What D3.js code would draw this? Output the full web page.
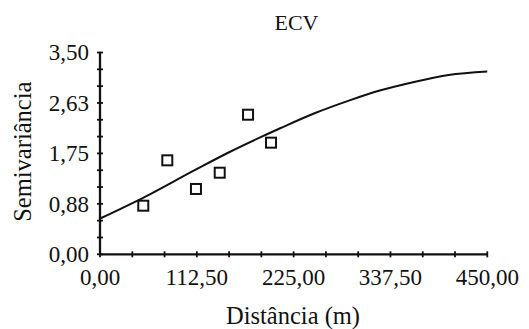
<!DOCTYPE html>
<html lang="pt">
<head>
<meta charset="UTF-8"/>
<title>ECV - Semivariograma</title>
<script src="https://d3js.org/d3.v7.min.js"></script>
<style>
	body { margin: 0; background: #fff; }
	text { font-family: "Liberation Serif", "DejaVu Serif", serif; fill: #111; }
</style>
</head>
<body>
<script>
	// ***Data***
	var distances = [50.3, 78.2, 111.5, 139.1, 172.0, 198.7];
	var semivariances = [0.843, 1.630, 1.133, 1.415, 2.421, 1.936];

	// fitted model
	var modelDistances = [0, 50, 110, 150, 210, 250, 290, 325, 365, 405, 450];
	var modelValues = [0.62, 0.98, 1.46, 1.77, 2.19, 2.45, 2.67, 2.84, 2.99, 3.11, 3.17];

	var xTickValues = [0, 112.5, 225, 337.5, 450];
	var xTickLabels = ["0,00", "112,50", "225,00", "337,50", "450,00"];
	var yTickValues = [0, 0.875, 1.75, 2.625, 3.5];
	var yTickLabels = ["0,00", "0,88", "1,75", "2,63", "3,50"];

	var title = "ECV";
	var xTitle = "Distância (m)";
	var yTitle = "Semivariância";

	// ***Layout***
	var w = 529;
	var h = 329;
	var plotLeft = 100, plotRight = 487.3, plotTop = 52.5, plotBottom = 254.3;

	var xScale = d3.scaleLinear().domain([0, 450]).range([plotLeft, plotRight]);
	var yScale = d3.scaleLinear().domain([0, 3.5]).range([plotBottom, plotTop]);

	var svg = d3.select("body")
				.append("svg")
				.attr("width", w)
				.attr("height", h);

	svg.append("rect").attr("width", w).attr("height", h).attr("fill", "#fff");

	// minor ticks (12 divisions on each axis), crossing the axis line
	var xMinor = d3.range(0, 13).map(function(i) { return i * 450 / 12; });
	var yMinor = d3.range(0, 13).map(function(i) { return i * 3.5 / 12; });

	svg.selectAll("line.xtick")
		.data(xMinor)
		.enter()
		.append("line")
		.attr("class", "xtick")
		.attr("x1", function(d) { return xScale(d); })
		.attr("x2", function(d) { return xScale(d); })
		.attr("y1", plotBottom - 3)
		.attr("y2", plotBottom + 3)
		.attr("stroke", "#111")
		.attr("stroke-width", 1.8);

	svg.selectAll("line.ytick")
		.data(yMinor)
		.enter()
		.append("line")
		.attr("class", "ytick")
		.attr("y1", function(d) { return yScale(d); })
		.attr("y2", function(d) { return yScale(d); })
		.attr("x1", plotLeft - 3)
		.attr("x2", plotLeft + 3)
		.attr("stroke", "#111")
		.attr("stroke-width", 1.8);

	// axis lines
	svg.append("line")
		.attr("x1", plotLeft).attr("x2", plotRight)
		.attr("y1", plotBottom).attr("y2", plotBottom)
		.attr("stroke", "#111").attr("stroke-width", 2.3);
	svg.append("line")
		.attr("x1", plotLeft).attr("x2", plotLeft)
		.attr("y1", plotTop).attr("y2", plotBottom)
		.attr("stroke", "#111").attr("stroke-width", 2.3);

	// tick labels
	svg.selectAll("text.xlab")
		.data(xTickValues)
		.enter()
		.append("text")
		.attr("class", "xlab")
		.attr("x", function(d) { return xScale(d); })
		.attr("y", 285)
		.attr("text-anchor", "middle")
		.attr("font-size", 23)
		.text(function(d, i) { return xTickLabels[i]; });

	svg.selectAll("text.ylab")
		.data(yTickValues)
		.enter()
		.append("text")
		.attr("class", "ylab")
		.attr("x", 89)
		.attr("y", function(d) { return yScale(d) + 7.8; })
		.attr("text-anchor", "end")
		.attr("font-size", 23)
		.text(function(d, i) { return yTickLabels[i]; });

	// titles
	svg.append("text")
		.attr("x", 296.5).attr("y", 29.5)
		.attr("text-anchor", "middle")
		.attr("font-size", 22)
		.text(title);

	svg.append("text")
		.attr("x", 293).attr("y", 324)
		.attr("text-anchor", "middle")
		.attr("font-size", 24.5)
		.text(xTitle);

	svg.append("text")
		.attr("transform", "translate(31,151.7) rotate(-90)")
		.attr("text-anchor", "middle")
		.attr("font-size", 24.5)
		.text(yTitle);

	// model curve
	var model = modelDistances.map(function(d, i) { return [d, modelValues[i]]; });
	var line = d3.line()
		.x(function(d) { return xScale(d[0]); })
		.y(function(d) { return yScale(d[1]); })
		.curve(d3.curveMonotoneX);

	svg.append("path")
		.datum(model)
		.attr("d", line)
		.attr("fill", "none")
		.attr("stroke", "#111")
		.attr("stroke-width", 2);

	// experimental points (open squares)
	var s = 10;
	svg.selectAll("rect.pt")
		.data(distances)
		.enter()
		.append("rect")
		.attr("class", "pt")
		.attr("x", function(d) { return xScale(d) - s / 2; })
		.attr("y", function(d, i) { return yScale(semivariances[i]) - s / 2; })
		.attr("width", s)
		.attr("height", s)
		.attr("fill", "#fff")
		.attr("stroke", "#111")
		.attr("stroke-width", 2);
</script>
</body>
</html>
